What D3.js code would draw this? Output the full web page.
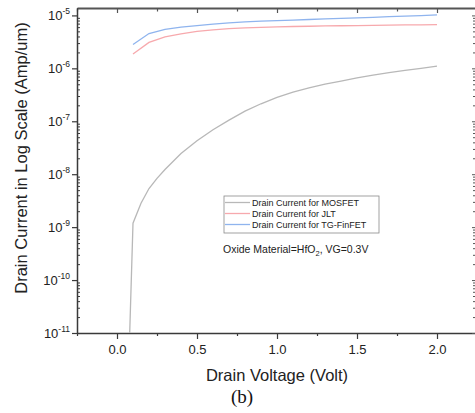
<!doctype html>
<html>
  <style>
    body { margin: 0; background-color: #fff; }
    svg { display: block; font-family: "Liberation Sans", Arial, sans-serif; }
  </style>
  <body>
  <script src="https://cdn.jsdelivr.net/npm/d3@7"></script>
  <script>
    var width = 475,
        height = 413;

    // drain voltage (V)
    var vds = [0.1, 0.2, 0.3, 0.4, 0.5, 0.6, 0.7, 0.8, 0.9, 1.0,
               1.1, 1.2, 1.3, 1.4, 1.5, 1.6, 1.7, 1.8, 1.9, 2.0];
    // MOSFET: extra point at Vd = 0 (far below the axis) and a finer start
    var vdsMosfet = [0.0, 0.1, 0.15, 0.2, 0.25, 0.3, 0.4, 0.5, 0.6, 0.7, 0.8, 0.9, 1.0,
                     1.1, 1.2, 1.3, 1.4, 1.5, 1.6, 1.7, 1.8, 1.9, 2.0];
    var idMosfet = [1e-19, 1.19e-9, 2.82e-9, 5.37e-9, 8.32e-9, 1.23e-8, 2.45e-8, 4.27e-8, 6.92e-8, 1.05e-7, 1.55e-7, 2.14e-7, 2.82e-7,
                    3.55e-7, 4.27e-7, 5.01e-7, 5.75e-7, 6.61e-7, 7.41e-7, 8.32e-7, 9.12e-7, 1.0e-6, 1.10e-6];
    var idJlt = [1.87e-6, 3.09e-6, 3.95e-6, 4.50e-6, 5.01e-6, 5.35e-6, 5.62e-6, 5.82e-6, 5.95e-6, 6.08e-6,
                 6.17e-6, 6.24e-6, 6.32e-6, 6.38e-6, 6.43e-6, 6.49e-6, 6.55e-6, 6.61e-6, 6.65e-6, 6.71e-6];
    var idFinfet = [2.83e-6, 4.55e-6, 5.46e-6, 6.01e-6, 6.44e-6, 6.84e-6, 7.23e-6, 7.55e-6, 7.78e-6, 7.94e-6,
                    8.16e-6, 8.37e-6, 8.59e-6, 8.79e-6, 8.97e-6, 9.20e-6, 9.45e-6, 9.70e-6, 9.95e-6, 1.02e-5];

    var xTicks = [0.0, 0.5, 1.0, 1.5, 2.0];
    var xMinor = [-0.25, 0.25, 0.75, 1.25, 1.75, 2.25];
    var yExps = [-11, -10, -9, -8, -7, -6, -5];

    var seriesNames = ['Drain Current for MOSFET', 'Drain Current for JLT', 'Drain Current for TG-FinFET'];
    var seriesColors = ['#b8b8b8', '#f7a9ad', '#8fb4ee'];

    var pLeft = 77, pRight = 477, pTop = 8, pBottom = 333;

    var x = d3.scaleLinear().domain([-0.25, 2.25]).range([pLeft, pRight]);
    var y = d3.scaleLog().domain([1e-11, Math.pow(10, -4.86)]).range([pBottom, pTop]);

    var svg = d3.select('body').append('svg')
        .attr('width', width)
        .attr('height', height);

    svg.append('defs').append('clipPath').attr('id', 'plot')
      .append('rect').attr('x', pLeft).attr('y', pTop)
        .attr('width', pRight - pLeft).attr('height', pBottom - pTop);

    // log minor tick values
    var yMinor = [];
    yExps.forEach(function (e) {
      for (var k = 2; k < 10; k++) {
        var v = k * Math.pow(10, e);
        if (v < y.domain()[1]) yMinor.push(v);
      }
    });

    var axisColor = '#3a3a3a';

    // bottom axis
    svg.append('g').attr('transform', 'translate(0,' + pBottom + ')')
        .call(d3.axisBottom(x).tickValues(xTicks).tickSize(6).tickFormat(d3.format('.1f')).tickSizeOuter(0))
        .call(function (g) {
          g.select('.domain').attr('stroke', axisColor).attr('stroke-width', 1.5);
          g.selectAll('.tick line').attr('stroke', axisColor).attr('stroke-width', 1.2);
          g.selectAll('.tick text').attr('font-size', 13).attr('fill', '#222').attr('dy', '0.95em');
        });
    svg.append('g').attr('transform', 'translate(0,' + pBottom + ')')
        .call(d3.axisBottom(x).tickValues(xMinor).tickSize(3).tickFormat('').tickSizeOuter(0))
        .call(function (g) {
          g.select('.domain').remove();
          g.selectAll('.tick line').attr('stroke', axisColor).attr('stroke-width', 1.2);
        });

    // top axis, ticks inward
    svg.append('g').attr('transform', 'translate(0,' + pTop + ')')
        .call(d3.axisBottom(x).tickValues(xTicks).tickSize(5).tickFormat('').tickSizeOuter(0))
        .call(function (g) {
          g.select('.domain').attr('stroke', '#555').attr('stroke-width', 2);
          g.selectAll('.tick line').attr('stroke', '#555').attr('stroke-width', 1.2);
        });
    svg.append('g').attr('transform', 'translate(0,' + pTop + ')')
        .call(d3.axisBottom(x).tickValues(xMinor).tickSize(3.5).tickFormat('').tickSizeOuter(0))
        .call(function (g) {
          g.select('.domain').remove();
          g.selectAll('.tick line').attr('stroke', '#555').attr('stroke-width', 1.2);
        });

    // left axis: majors outward, minors inward
    var yMajorVals = yExps.map(function (e) { return Math.pow(10, e); });
    svg.append('g').attr('transform', 'translate(' + pLeft + ',0)')
        .call(d3.axisLeft(y).tickValues(yMajorVals).tickSize(5).tickFormat('').tickSizeOuter(0))
        .call(function (g) {
          g.select('.domain').attr('stroke', axisColor).attr('stroke-width', 1.5);
          g.selectAll('.tick line').attr('stroke', axisColor).attr('stroke-width', 1.2);
        });
    svg.append('g').attr('transform', 'translate(' + pLeft + ',0)')
        .call(d3.axisRight(y).tickValues(yMinor).tickSize(3).tickFormat('').tickSizeOuter(0))
        .call(function (g) {
          g.select('.domain').remove();
          g.selectAll('.tick line').attr('stroke', axisColor).attr('stroke-width', 1);
        });

    // right axis sits just past the picture edge; only its inward ticks show
    svg.append('g').attr('transform', 'translate(' + pRight + ',0)')
        .call(d3.axisLeft(y).tickValues(yMajorVals).tickSize(5).tickFormat('').tickSizeOuter(0))
        .call(function (g) {
          g.select('.domain').remove();
          g.selectAll('.tick line').attr('stroke', '#555').attr('stroke-width', 1);
        });
    svg.append('g').attr('transform', 'translate(' + pRight + ',0)')
        .call(d3.axisLeft(y).tickValues(yMinor).tickSize(4).tickFormat('').tickSizeOuter(0))
        .call(function (g) {
          g.select('.domain').remove();
          g.selectAll('.tick line').attr('stroke', '#555').attr('stroke-width', 1);
        });

    // y tick labels 10^n
    var yl = svg.append('g').selectAll('text')
        .data(yExps)
      .enter().append('text')
        .attr('x', 70)
        .attr('y', function (d) { return y(Math.pow(10, d)); })
        .attr('dy', '0.38em')
        .attr('text-anchor', 'end')
        .attr('font-size', 13)
        .attr('fill', '#222');
    yl.append('tspan').text('10');
    yl.append('tspan')
        .attr('font-size', 8.5)
        .attr('dy', '-0.75em')
        .text(function (d) { return '-' + (-d); });

    // series
    var line = d3.line()
        .x(function (d) { return x(d[0]); })
        .y(function (d) { return y(d[1]); });

    var series = [
      d3.zip(vdsMosfet, idMosfet),
      d3.zip(vds, idJlt),
      d3.zip(vds, idFinfet)
    ];

    svg.append('g').attr('clip-path', 'url(#plot)')
      .selectAll('path')
        .data(series)
      .enter().append('path')
        .attr('d', line)
        .attr('fill', 'none')
        .attr('stroke', function (d, i) { return seriesColors[i]; })
        .attr('stroke-width', 1.3);

    // legend
    var lg = svg.append('g');
    lg.append('rect')
        .attr('x', 224).attr('y', 196)
        .attr('width', 155).attr('height', 37)
        .attr('fill', '#fff')
        .attr('stroke', '#8a8a8a')
        .attr('stroke-width', 0.8);
    seriesNames.forEach(function (name, i) {
      var ry = 202.5 + i * 11;
      lg.append('line')
          .attr('x1', 225).attr('x2', 250)
          .attr('y1', ry).attr('y2', ry)
          .attr('stroke', seriesColors[i])
          .attr('stroke-width', 1.3);
      lg.append('text')
          .attr('x', 252).attr('y', ry + 3.3)
          .attr('font-size', 9)
          .attr('fill', '#222')
          .text(name);
    });

    // annotation
    var note = svg.append('text')
        .attr('x', 223).attr('y', 253)
        .attr('font-size', 10.5)
        .attr('fill', '#222');
    note.append('tspan').text('Oxide Material=HfO');
    note.append('tspan').attr('font-size', 7.5).attr('dy', 2.5).text('2');
    note.append('tspan').attr('dy', -2.5).text(', VG=0.3V');

    // axis titles
    svg.append('text')
        .attr('x', 277).attr('y', 381)
        .attr('text-anchor', 'middle')
        .attr('font-size', 16.5)
        .attr('fill', '#222')
        .text('Drain Voltage (Volt)');

    svg.append('text')
        .attr('transform', 'translate(27,158) rotate(-90)')
        .attr('text-anchor', 'middle')
        .attr('font-size', 16.5)
        .attr('fill', '#222')
        .text('Drain Current in Log Scale (Amp/um)');

    svg.append('text')
        .attr('x', 242).attr('y', 403)
        .attr('text-anchor', 'middle')
        .attr('font-family', '"Liberation Serif", "Times New Roman", serif')
        .attr('font-size', 19)
        .attr('fill', '#111')
        .text('(b)');
  </script>
  </body>
</html>
